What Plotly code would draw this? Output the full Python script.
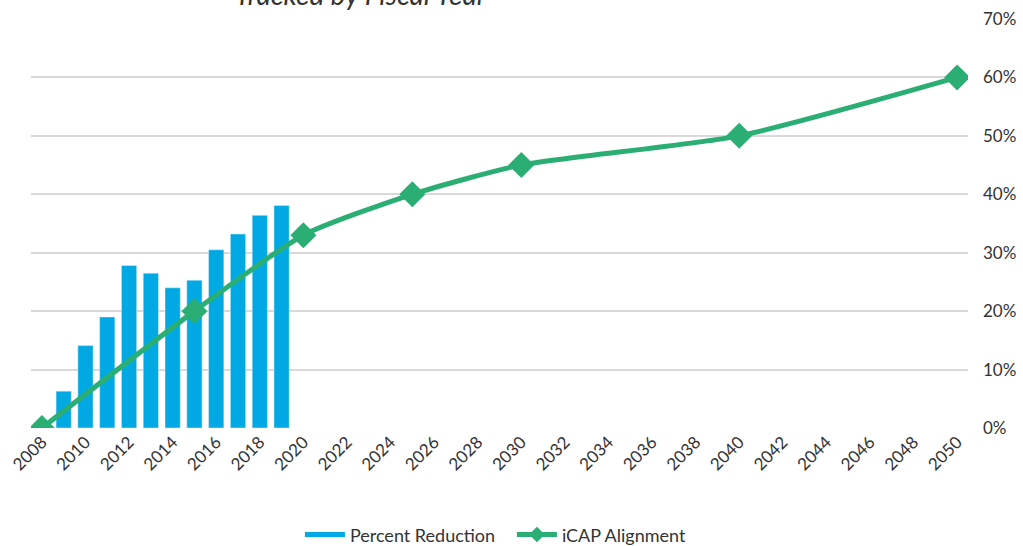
import plotly.graph_objs as go

# Data
bar_years = [2009, 2010, 2011, 2012, 2013, 2014, 2015, 2016, 2017, 2018, 2019]
pct_reduction = [6.3, 14.1, 19.0, 27.8, 26.5, 24.0, 25.3, 30.5, 33.2, 36.4, 38.1]

icap_years = [2008, 2015, 2020, 2025, 2030, 2040, 2050]
icap_target = [0, 20, 33, 40, 45, 50, 60]

x_ticks = list(range(2008, 2051, 2))
y_ticks = [0, 10, 20, 30, 40, 50, 60, 70]

_BLUE = "#00a9e3"
_GREEN = "#2bae74"
_GRID = "#d9d9d9"
_TEXT = "#333333"

fig = go.Figure()
fig.add_trace(go.Bar(
    x=bar_years,
    y=pct_reduction,
    name="Percent Reduction",
    marker_color=_BLUE,
    width=0.7,
    showlegend=False,
))
# legend-only entry so the swatch is a wide bar like the original
fig.add_trace(go.Scatter(
    x=[None], y=[None],
    name="Percent Reduction",
    mode="lines",
    line=dict(color=_BLUE, width=8),
))
fig.add_trace(go.Scatter(
    x=icap_years,
    y=icap_target,
    name="iCAP Alignment",
    mode="lines+markers",
    line=dict(color=_GREEN, width=5, shape="spline", smoothing=0.6),
    marker=dict(symbol="diamond", size=20, color=_GREEN),
))

# title sits mostly above the page, only its lower part shows
fig.add_annotation(
    text="<i>Tracked by Fiscal Year</i>",
    xref="paper", yref="paper",
    x=0.352, y=1.062,
    xanchor="center", yanchor="middle",
    showarrow=False,
    font=dict(size=28, color=_TEXT),
)

fig.update_layout(
    width=1023,
    height=546,
    plot_bgcolor="white",
    paper_bgcolor="white",
    font=dict(family="Lato, sans-serif", color=_TEXT, size=17),
    margin=dict(l=31, r=55, t=19, b=118, autoexpand=False),
    showlegend=True,
    legend=dict(
        orientation="h",
        x=0.287, xanchor="left",
        y=-0.216, yanchor="top",
        font=dict(size=18),
        itemwidth=40,
        itemsizing="constant",
        entrywidth=157,
        tracegroupgap=0,
    ),
    xaxis=dict(
        range=[2007.5, 2050.5],
        tickvals=x_ticks,
        ticktext=[str(v) for v in x_ticks],
        tickangle=-45,
        showgrid=False,
        zeroline=False,
        showline=False,
        automargin=False,
        tickfont=dict(size=17),
    ),
    yaxis=dict(
        side="right",
        range=[0, 70],
        tickvals=y_ticks,
        ticktext=[f"{v}%" for v in y_ticks],
        showgrid=True,
        gridcolor=_GRID,
        gridwidth=1.5,
        zeroline=False,
        automargin=False,
        ticklabelstandoff=14,
        tickfont=dict(size=17),
    ),
)

# drop the default page margin so the figure sits at the window's corner
fig.write_html(
    "out.html",
    config={"displayModeBar": False},
    post_script="document.body.style.margin='0';",
)
